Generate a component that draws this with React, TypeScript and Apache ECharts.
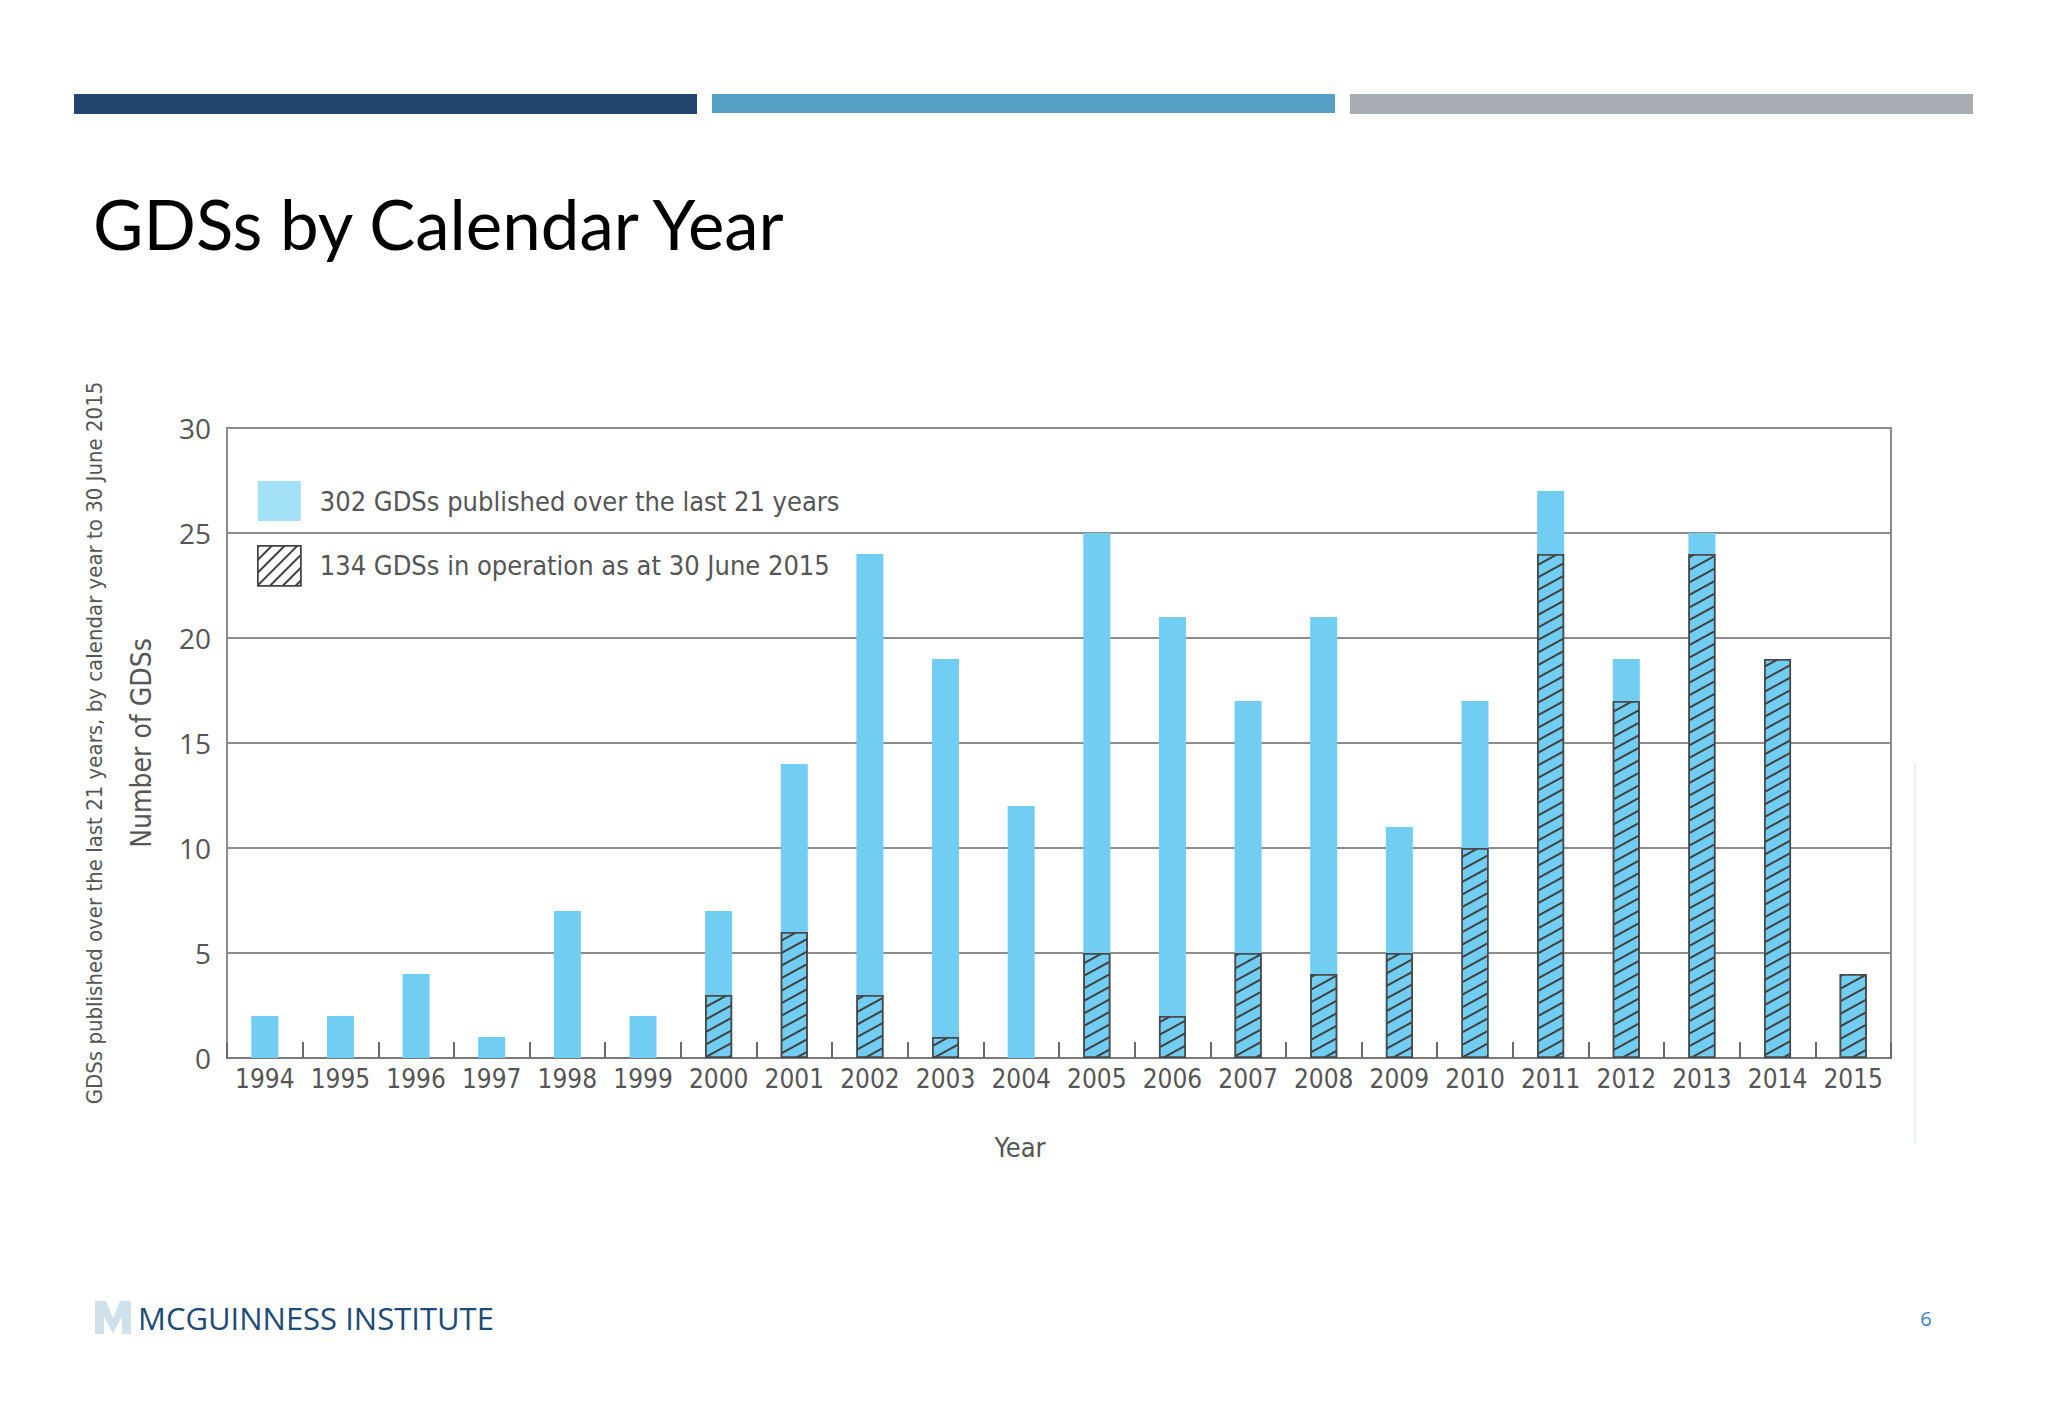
import React, { useEffect, useRef } from "react";
import * as echarts from "echarts";

const years = ["1994","1995","1996","1997","1998","1999","2000","2001","2002","2003","2004","2005","2006","2007","2008","2009","2010","2011","2012","2013","2014","2015"];
const published = [2, 2, 4, 1, 7, 2, 7, 14, 24, 19, 12, 25, 21, 17, 21, 11, 17, 27, 19, 25, 19, 4];
const inOperation = [0, 0, 0, 0, 0, 0, 3, 6, 3, 1, 0, 5, 2, 5, 4, 5, 10, 24, 17, 24, 19, 4];
const yTicks = { min: 0, max: 30, interval: 5 };
const legendNames = ["302 GDSs published over the last 21 years", "134 GDSs in operation as at 30 June 2015"];

const COND = "'DejaVu Sans Condensed', 'DejaVu Sans', sans-serif";

export default function App() {
  const ref = useRef<HTMLDivElement>(null);
  useEffect(() => {
    document.body.style.margin = "0";
    const chart = echarts.init(ref.current!, null, { renderer: "svg" });
    const hatch = {
      symbol: "rect",
      symbolSize: 1,
      dashArrayX: [[1, 0]],
      dashArrayY: [2, 9],
      rotation: -0.5,
      color: "#3f3f3f",
    };
    const hatchLegend = {
      symbol: "rect",
      symbolSize: 1,
      dashArrayX: [[1, 0]],
      dashArrayY: [2, 7],
      rotation: -Math.PI / 4,
      color: "#3f3f3f",
    };
    chart.setOption({
      animation: false,
      backgroundColor: "#ffffff",
      grid: {
        left: 227,
        right: 157,
        top: 428,
        bottom: 360,
        show: true,
        borderColor: "#8c8c8c",
        borderWidth: 2,
      },
      legend: {
        left: 257,
        top: 481,
        orient: "vertical",
        itemWidth: 43,
        itemHeight: 40,
        itemGap: 24,
        padding: 0,
        selectedMode: false,
        icon: "rect",
        textStyle: { fontFamily: COND, fontSize: 27, color: "#555555", padding: [0, 0, 0, 14] },
        data: [
          { name: legendNames[0], itemStyle: { color: "#a3e1f6", borderWidth: 0 } },
          { name: legendNames[1], itemStyle: { color: "#ffffff", borderColor: "#444444", borderWidth: 1.5, decal: hatchLegend } },
        ],
      },
      xAxis: {
        type: "category",
        data: years,
        boundaryGap: true,
        axisLine: { show: true, lineStyle: { color: "#7a7a7a", width: 2 } },
        axisTick: { show: true, inside: true, length: 16, interval: 0, lineStyle: { color: "#6a6a6a", width: 2 } },
        axisLabel: { fontFamily: COND, fontSize: 26, color: "#555555", margin: 8, interval: 0 },
      },
      yAxis: {
        type: "value",
        min: yTicks.min,
        max: yTicks.max,
        interval: yTicks.interval,
        name: "Number of GDSs",
        nameLocation: "middle",
        nameGap: 72,
        nameRotate: 90,
        nameTextStyle: { fontFamily: COND, fontSize: 28, color: "#555555" },
        axisLine: { show: true, lineStyle: { color: "#8c8c8c", width: 2 } },
        axisTick: { show: false },
        axisLabel: { fontFamily: "'Open Sans', sans-serif", fontSize: 28, color: "#555555", margin: 16 },
        splitLine: { show: true, lineStyle: { color: "#8c8c8c", width: 2 } },
      },
      series: [
        {
          name: legendNames[0],
          type: "bar",
          data: published,
          barWidth: 27,
          itemStyle: { color: "#72cdf3" },
          z: 2,
        },
        {
          name: legendNames[1],
          type: "bar",
          data: inOperation.map((v) => (v === 0 ? "-" : v)),
          barWidth: 27,
          barGap: "-100%",
          itemStyle: { color: "#72cdf3", borderColor: "#4a4a4a", borderWidth: 1.5, decal: hatch },
          z: 3,
        },
      ],
      graphic: [
        { type: "rect", shape: { x: 74, y: 94, width: 623, height: 20 }, style: { fill: "#22446f" } },
        { type: "rect", shape: { x: 712, y: 94, width: 623, height: 19 }, style: { fill: "#55a1c6" } },
        { type: "rect", shape: { x: 1350, y: 94, width: 623, height: 20 }, style: { fill: "#a9acb0" } },
        {
          type: "text",
          x: 93,
          y: 189,
          style: { text: "GDSs by Calendar Year", font: "400 69px Lato, 'Open Sans', sans-serif", fill: "#000000" },
        },
        {
          type: "text",
          x: 94,
          y: 743,
          rotation: Math.PI / 2,
          style: {
            text: "GDSs published over the last 21 years, by calendar year to 30 June 2015",
            font: "22px " + COND,
            fill: "#555555",
            align: "center",
            verticalAlign: "middle",
          },
        },
        {
          type: "text",
          x: 1020,
          y: 1147,
          style: { text: "Year", font: "27px " + COND, fill: "#555555", align: "center", verticalAlign: "middle" },
        },
        { type: "line", shape: { x1: 1915, y1: 764, x2: 1915, y2: 1143 }, style: { stroke: "#e3f2f8", lineWidth: 2 } },
        {
          type: "polygon",
          shape: { points: [[95, 1301], [106, 1301], [113, 1318], [120, 1301], [131, 1301], [131, 1334], [122, 1334], [122, 1316], [113, 1334], [104, 1316], [104, 1334], [95, 1334]] },
          style: { fill: "#cfe2ea" },
        },
        {
          type: "text",
          x: 138,
          y: 1318,
          style: { text: "MCGUINNESS INSTITUTE", font: "400 31px 'Open Sans', sans-serif", fill: "#1d4a77", verticalAlign: "middle" },
        },
        {
          type: "text",
          x: 1926,
          y: 1318,
          style: { text: "6", font: "20px 'Open Sans', sans-serif", fill: "#3f7fbf", align: "center", verticalAlign: "middle" },
        },
      ],
    });
    return () => chart.dispose();
  }, []);
  return <div ref={ref} style={{ position: "fixed", left: 0, top: 0, width: 2048, height: 1418 }} />;
}
